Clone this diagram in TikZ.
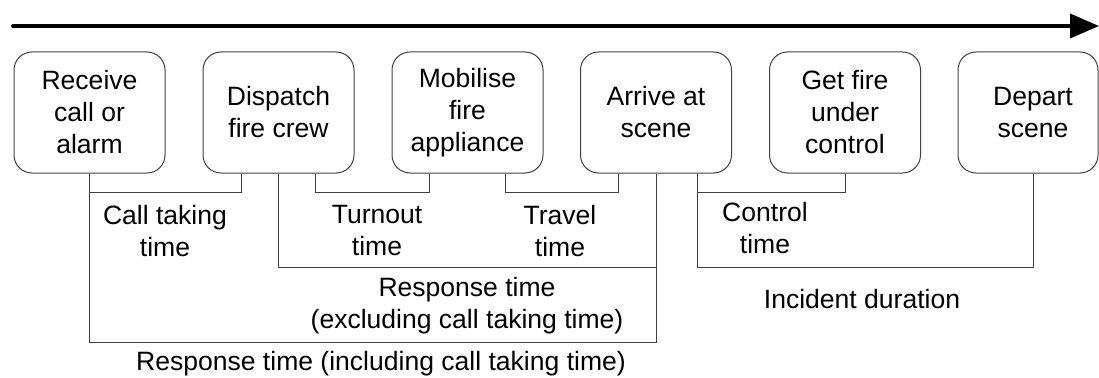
\documentclass[tikz,border=0pt]{standalone}
\usepackage{fontspec}
\setmainfont{Liberation Sans}
\usetikzlibrary{arrows.meta,calc}
\definecolor{edge}{RGB}{64,64,64}

\begin{document}
\begin{tikzpicture}[x=0.75pt,y=-0.75pt,font=\fontsize{19.9}{24}\selectfont,
  stage/.style={draw=edge,line width=0.75pt,rounded corners=13.5pt,minimum width=113.25pt,minimum height=90.75pt,align=center,inner sep=0pt},
  span/.style={draw=edge,line width=0.75pt},
  lbl/.style={align=center,inner sep=0pt}]
\useasboundingbox (0,0) rectangle (1099,378);
% time axis
\coordinate (t0) at (13,26);
\coordinate (t1) at (1099,26);
\draw[line width=3pt,line cap=round,-{Triangle[length=21.75pt,width=18pt]}] (t0) -- (t1);
% stages
\foreach \n/\x/\t in {recv/89.5/{Receive\\call or\\alarm},disp/278.5/{Dispatch\\fire crew},
    mobil/467.5/{Mobilise\\fire\\appliance},arrive/656/{Arrive at\\scene},
    ctrl/845/{Get fire\\under\\control}}
  \node[stage] (\n) at (\x,112.5) {\t};
% last box is cut short at the right edge
\node[stage,minimum width=105pt] (depart) at (1028,112.5) {\hspace*{7.5pt}Depart\\\hspace*{7.5pt}scene};
% short spans
\draw[span] (recv.south) -- ++(0,19) -| ($(disp.south)+(-37.5,0)$);
\draw[span] ($(disp.south)+(36.5,0)$) -- ++(0,19) -| ($(mobil.south)+(-38.5,0)$);
\draw[span] ($(mobil.south)+(37.5,0)$) -- ++(0,19) -| ($(arrive.south)+(-38,0)$);
\draw[span] ($(arrive.south)+(41,0)$) -- ++(0,19) -| (ctrl.south);
% long spans
\draw[span] (disp.south) -- ++(0,94) -| (arrive.south);
\draw[span] (recv.south) -- ++(0,169) -| (arrive.south);
\draw[span] ($(arrive.south)+(41,0)$) -- ++(0,94) -| ($(depart.south)+(5,0)$);
% span labels
\node[lbl] (calltime) at (165,231) {Call taking\\time};
\node[lbl] (turnout) at (377,231) {Turnout\\time};
\node[lbl] (travel) at (560,231) {Travel\\time};
\node[lbl] (control) at (765,228) {Control\\time};
\node[lbl] (respexcl) at (467,306) {Response time\\(excluding call taking time)};
\node[lbl,anchor=base] (respincl) at (381,370) {Response time (including call taking time)};
\node[lbl,anchor=base] (incident) at (862,308) {Incident duration};
\end{tikzpicture}
\end{document}
